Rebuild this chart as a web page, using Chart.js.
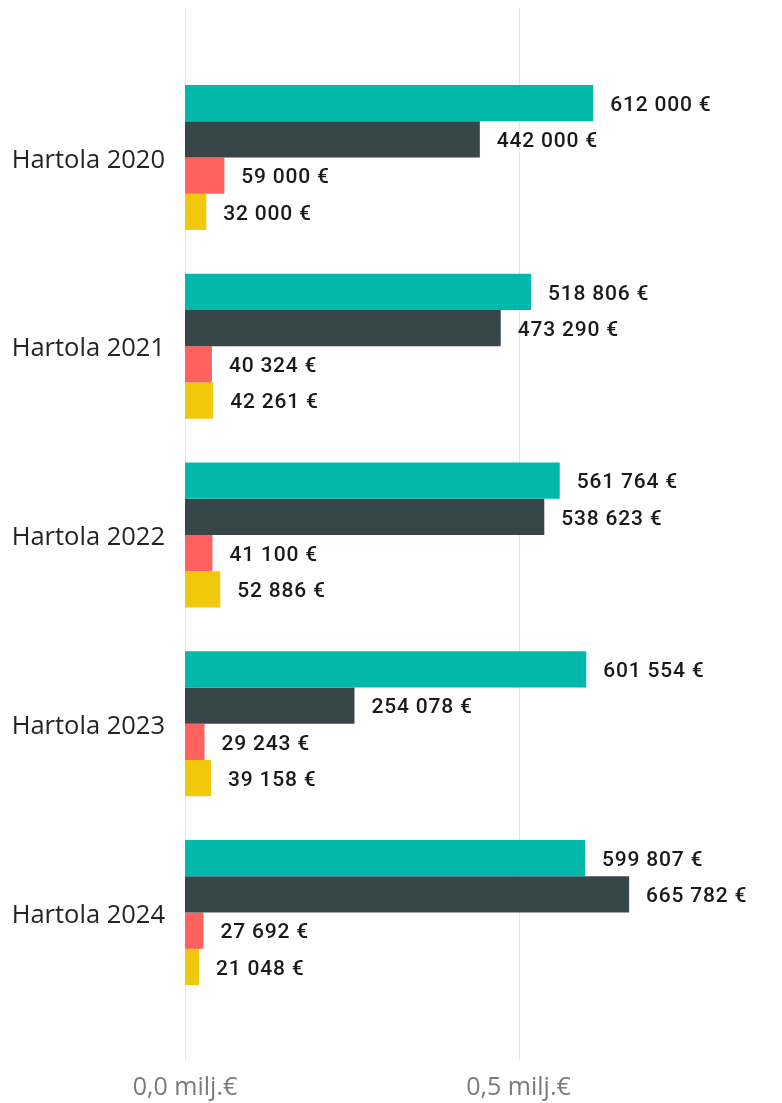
<!DOCTYPE html>
<html>
<head>
<meta charset="utf-8">
<script src="https://cdn.jsdelivr.net/npm/chart.js@4/dist/chart.umd.min.js"></script>
<style>
  html, body { margin: 0; padding: 0; background: #ffffff; }
  #wrap { width: 782px; height: 1103px; position: relative; }
</style>
</head>
<body>
<div id="wrap"><canvas id="c"></canvas></div>
<script>
const categories = ['Hartola 2020', 'Hartola 2021', 'Hartola 2022', 'Hartola 2023', 'Hartola 2024'];
const seriesA = [612000, 518806, 561764, 601554, 599807];
const seriesB = [442000, 473290, 538623, 254078, 665782];
const seriesC = [59000, 40324, 41100, 29243, 27692];
const seriesD = [32000, 42261, 52886, 39158, 21048];
const xTicks = [0, 500000];

const colors = ['#01B8AA', '#374649', '#FD625E', '#F2C80F'];

function fmtEuro(v) {
  return String(Math.round(v)).replace(/\B(?=(\d{3})+(?!\d))/g, ' ') + ' €';
}

const gridPlugin = {
  id: 'fullGrid',
  beforeDatasetsDraw(chart) {
    const ctx = chart.ctx;
    const xs = chart.scales.x;
    ctx.save();
    ctx.strokeStyle = '#e4e4e4';
    ctx.lineWidth = 1;
    xs.ticks.forEach(t => {
      const px = Math.round(xs.getPixelForValue(t.value)) + 0.5;
      ctx.beginPath();
      ctx.moveTo(px, 8);
      ctx.lineTo(px, 1060);
      ctx.stroke();
    });
    ctx.restore();
  }
};

const labelPlugin = {
  id: 'barLabels',
  afterDatasetsDraw(chart) {
    const ctx = chart.ctx;
    ctx.save();
    ctx.font = '500 21px Roboto';
    try { ctx.letterSpacing = '0.8px'; } catch (e) {}
    ctx.fillStyle = '#1a1a1a';
    ctx.textAlign = 'left';
    ctx.textBaseline = 'middle';
    chart.data.datasets.forEach((ds, i) => {
      const meta = chart.getDatasetMeta(i);
      meta.data.forEach((el, j) => {
        ctx.fillText(fmtEuro(ds.data[j]), el.x + 17, el.y + 2.5);
      });
    });
    ctx.restore();
  }
};

const names = ['Sarja 1', 'Sarja 2', 'Sarja 3', 'Sarja 4'];
const values = [seriesA, seriesB, seriesC, seriesD];

new Chart(document.getElementById('c'), {
  type: 'bar',
  data: {
    labels: categories,
    datasets: values.map((d, i) => ({
      label: names[i],
      data: d,
      backgroundColor: colors[i],
      borderWidth: 0,
      categoryPercentage: 0.768,
      barPercentage: 1.0
    }))
  },
  options: {
    indexAxis: 'y',
    responsive: true,
    maintainAspectRatio: false,
    animation: false,
    layout: { padding: { top: 63, right: 30, bottom: 0, left: 0 } },
    plugins: {
      legend: { display: false },
      tooltip: { enabled: false }
    },
    scales: {
      x: {
        type: 'linear',
        min: 0,
        max: 850000,
        grid: { display: false, drawTicks: false },
        border: { display: false },
        afterFit(s) { s.height = 96; },
        afterBuildTicks(s) { s.ticks = xTicks.map(v => ({ value: v })); },
        ticks: {
          padding: 66,
          color: '#7a7a7a',
          font: { family: "'Open Sans'", size: 25 },
          callback: v => (v / 1e6).toFixed(1).replace('.', ',') + ' milj.€'
        }
      },
      y: {
        grid: { display: false, drawTicks: false },
        border: { display: false },
        afterFit(s) { s.width = 185; },
        ticks: {
          padding: 20,
          labelOffset: 3,
          color: '#252423',
          font: { family: "'Open Sans'", size: 25.5 }
        }
      }
    }
  },
  plugins: [gridPlugin, labelPlugin]
});
</script>
</body>
</html>
